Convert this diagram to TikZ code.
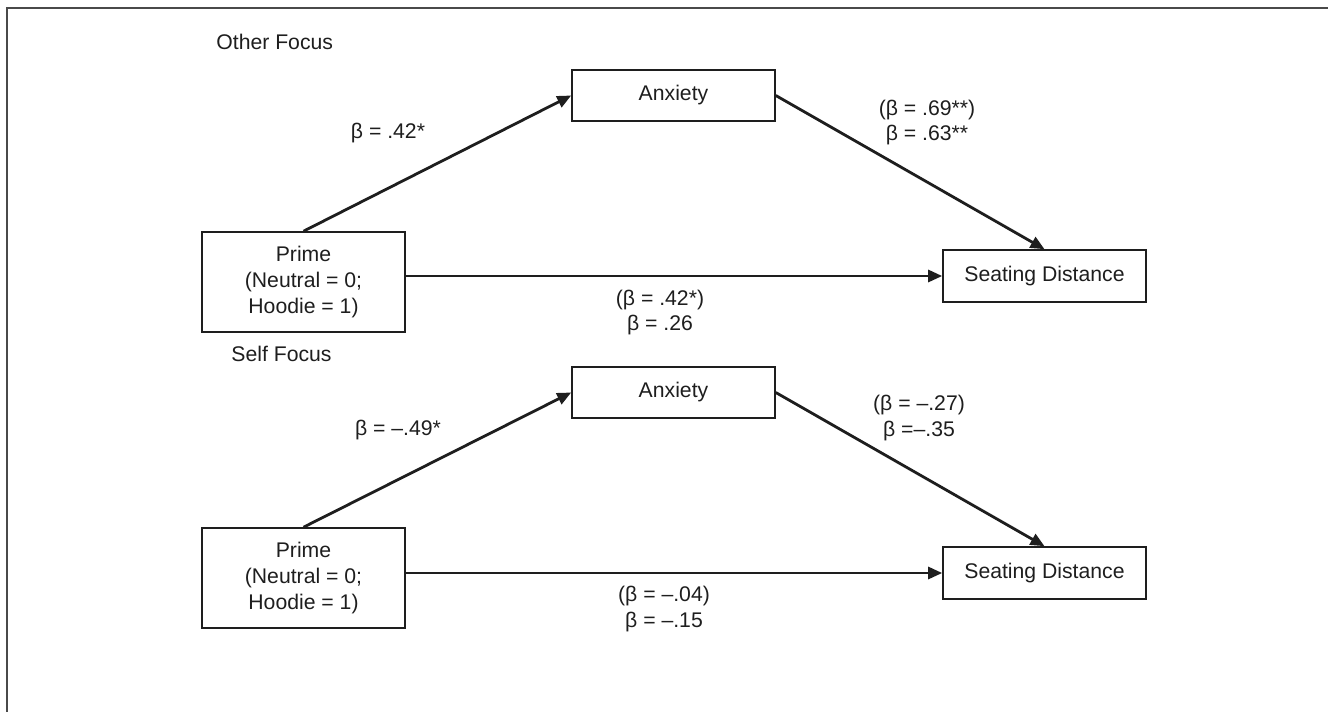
\documentclass[tikz,border=0pt]{standalone}
\usepackage{fontspec}
\setmainfont{Liberation Sans}
\usetikzlibrary{positioning,arrows.meta}
\definecolor{ink}{HTML}{1E1E1E}
\definecolor{rule}{HTML}{4A4A4A}

\tikzset{
  varbox/.style={draw=ink,line width=0.8pt,align=center,inner sep=0pt,
    minimum width=101.5pt,text=ink,font=\fontsize{10.6}{13.2}\selectfont},
  effect/.style={draw=ink,line width=1.4pt,-{Triangle[length=7pt,width=6pt]}},
  coef/.style={align=center,inner sep=0pt,text=ink,font=\fontsize{10.6}{12.6}\selectfont},
  paneltitle/.style={anchor=west,inner sep=0pt,text=ink,font=\fontsize{10.6}{12.6}\selectfont}
}

\begin{document}
\begin{tikzpicture}[x=0.5pt,y=-0.5pt]
        \useasboundingbox (0,0) rectangle (1328,712);
        \draw[rule,line width=1pt] (7,712) -- (7,8) -- (1328,8);

        % other focus
        \node[paneltitle] (titleA) at (216,42) {Other Focus};
        \node[varbox,minimum height=25.5pt] (anxA) at (673.5,95.5) {Anxiety};
        \node[varbox,minimum height=50pt] (primeA) at (303.5,282)
          {Prime\\(Neutral = 0;\\Hoodie = 1)};
        \node[varbox,minimum height=26pt] (seatA) at (1044.5,276) {Seating Distance};
        \draw[effect] (primeA.north) -- (anxA.west);
        \draw[effect] (anxA.east) -- (seatA.north);
        \draw[effect] (primeA.east |- seatA.west) -- (seatA.west);
        \node[coef] (aA) at (388,133) {β = .42*};
        \node[coef] (bA) at (927,122.5) {(β = .69**)\\β = .63**};
        \node[coef] (cA) at (660,312.5) {(β = .42*)\\β = .26};

        % self focus
        \node[paneltitle] (titleB) at (231,354) {Self Focus};
        \node[varbox,minimum height=25.5pt] (anxB) at (673.5,392.5) {Anxiety};
        \node[varbox,minimum height=50pt] (primeB) at (303.5,578)
          {Prime\\(Neutral = 0;\\Hoodie = 1)};
        \node[varbox,minimum height=26pt] (seatB) at (1044.5,573) {Seating Distance};
        \draw[effect] (primeB.north) -- (anxB.west);
        \draw[effect] (anxB.east) -- (seatB.north);
        \draw[effect] (primeB.east |- seatB.west) -- (seatB.west);
        \node[coef] (aB) at (398,430) {β = –.49*};
        \node[coef] (bB) at (919,418) {(β = –.27)\\β =–.35};
        \node[coef] (cB) at (664,609) {(β = –.04)\\β = –.15};
\end{tikzpicture}
\end{document}
